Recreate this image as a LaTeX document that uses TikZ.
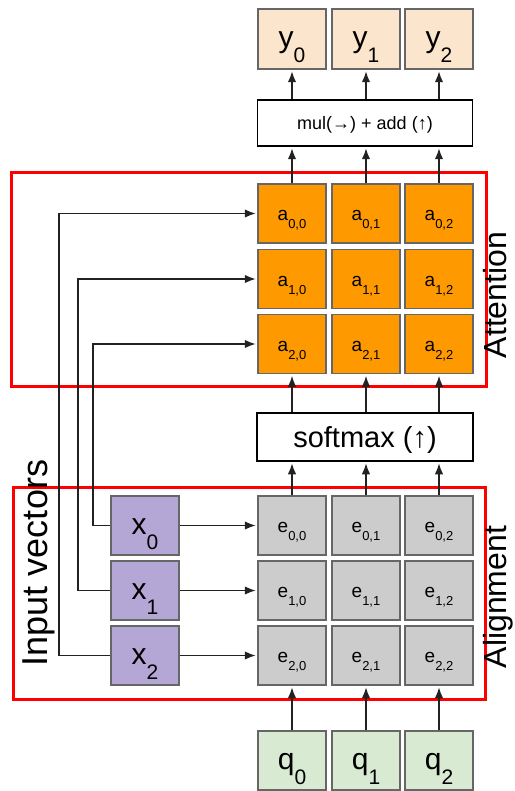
\documentclass[tikz,border=0pt]{standalone}
\usepackage{fontspec}
\setmainfont{Liberation Sans}
\usetikzlibrary{arrows.meta}
\definecolor{peach}{HTML}{FCE5CD}
\definecolor{attorange}{HTML}{FF9900}
\definecolor{algrey}{HTML}{CCCCCC}
\definecolor{inpurple}{HTML}{B4A7D6}
\definecolor{qgreen}{HTML}{D9EAD3}
\definecolor{bordergrey}{HTML}{666666}
\definecolor{arrowc}{HTML}{222222}
\definecolor{redline}{HTML}{FF0000}
\newcommand{\symsub}[5]{{\fontsize{#1pt}{#1pt}\selectfont #4}\raisebox{-#3pt}{\fontsize{#2pt}{#2pt}\selectfont #5}}
\newcommand{\smallsym}[2]{\symsub{19}{13}{8}{#1}{#2}}
\newcommand{\bigsym}[2]{\symsub{30}{21}{15}{#1}{#2}}
\begin{document}
\begin{tikzpicture}[x=1pt,y=-1pt,
  cell/.style={draw=bordergrey, line width=1.5pt, minimum width=68pt, minimum height=59pt, inner sep=0pt, text height=14pt, text depth=0pt},
  bigcell/.style={cell, text height=18pt},
  wide/.style={draw=black, line width=1.5pt, fill=white, inner sep=0pt, text depth=0pt},
  arr/.style={draw=arrowc, line width=1.6pt, shorten >=1.5pt, -{Latex[length=11pt,width=8.5pt]}},
  redbox/.style={draw=redline, line width=3pt, inner sep=0pt},
  side/.style={rotate=90, anchor=base, font=\fontsize{32pt}{32pt}\selectfont}]
\useasboundingbox (0,0) rectangle (514,791);
\fill[white] (0,0) rectangle (514,791);

% outputs
\node[bigcell, fill=peach, minimum height=60pt] (y0) at (292,39) {\bigsym{y}{0}};
\node[bigcell, fill=peach, minimum height=60pt] (y1) at (366,39) {\bigsym{y}{1}};
\node[bigcell, fill=peach, minimum height=60pt] (y2) at (439,39) {\bigsym{y}{2}};

\node[wide, minimum width=215pt, minimum height=46pt, text height=14pt, font=\fontsize{18pt}{18pt}\selectfont] (mul) at (365,123) {mul(→) + add (↑)};

% attention
\foreach \r/\yy in {0/213.5,1/279,2/344}{
  \foreach \c/\xx in {0/292,1/366,2/439}{
    \node[cell, fill=attorange] (a\r\c) at (\xx,\yy) {\smallsym{a}{\r,\c}};
  }
}

\node[wide, minimum width=216pt, minimum height=48pt, text height=20pt, font=\fontsize{29pt}{29pt}\selectfont] (sm) at (365,437) {softmax (↑)};

% alignment
\foreach \r/\yy in {0/525.5,1/590.5,2/655.5}{
  \foreach \c/\xx in {0/292,1/366,2/439}{
    \node[cell, fill=algrey] (e\r\c) at (\xx,\yy) {\smallsym{e}{\r,\c}};
  }
  \node[bigcell, fill=inpurple] (x\r) at (145,\yy) {\bigsym{x}{\r}};
}

% queries
\node[bigcell, fill=qgreen] (q0) at (292,760.5) {\bigsym{q}{0}};
\node[bigcell, fill=qgreen] (q1) at (366,760.5) {\bigsym{q}{1}};
\node[bigcell, fill=qgreen] (q2) at (439,760.5) {\bigsym{q}{2}};

% red frames
\node[redbox, minimum width=475pt, minimum height=213pt] (attframe) at (248.5,279.5) {};
\node[redbox, minimum width=472pt, minimum height=212pt] (alframe) at (249,593) {};

% vertical arrows
\foreach \c in {0,1,2}{
  \draw[arr] (q\c.north) -- (e2\c.south);
  \draw[arr] (e0\c.north) -- (e0\c.north |- sm.south);
  \draw[arr] (a2\c.south |- sm.north) -- (a2\c.south);
  \draw[arr] (a0\c.north) -- (a0\c.north |- mul.south);
  \draw[arr] (y\c.south |- mul.north) -- (y\c.south);
}

% x -> e
\foreach \r in {0,1,2}{
  \draw[arr] (x\r.east) -- (e\r0.west);
}

% x -> a (loops on the left)
\coordinate (k0) at (93,0);
\coordinate (k1) at (78,0);
\coordinate (k2) at (59,0);
\draw[arr] (x0.west) -| (k0 |- a20.west) -- (a20.west);
\draw[arr] (x1.west) -| (k1 |- a10.west) -- (a10.west);
\draw[arr] (x2.west) -| (k2 |- a00.west) -- (a00.west);

% side labels
\node[side] (attlabel) at (506,295) {Attention};
\node[side] (allabel) at (506,597) {Alignment};
\node[side, font=\fontsize{36pt}{36pt}\selectfont] (inlabel) at (47,563) {Input vectors};
\end{tikzpicture}
\end{document}
